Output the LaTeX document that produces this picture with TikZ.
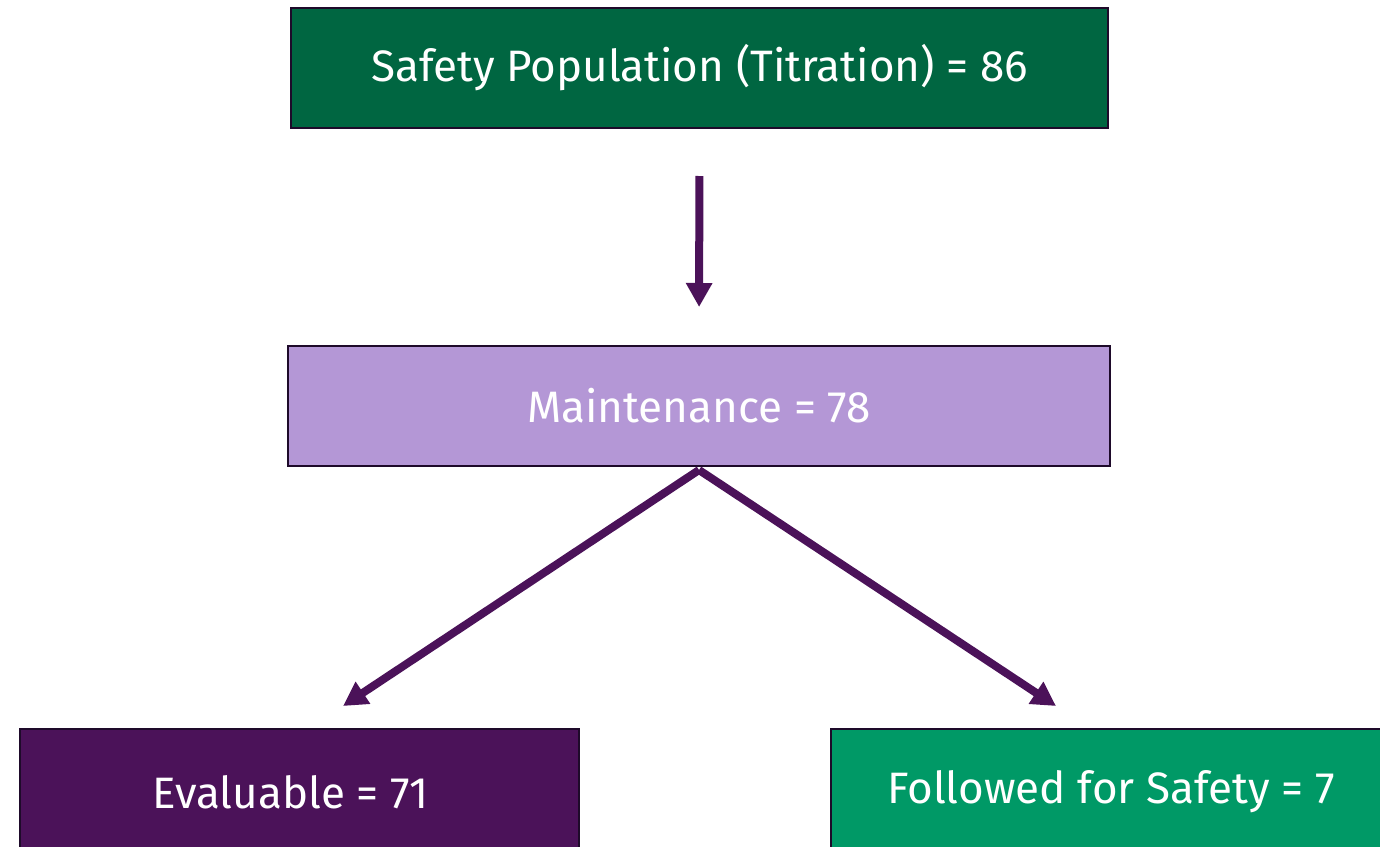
\documentclass[tikz,border=0pt]{standalone}
\usepackage{fontspec}
\setmainfont{Fira Sans}
\usetikzlibrary{arrows.meta}
\definecolor{dgreen}{HTML}{006641}
\definecolor{lav}{HTML}{B497D6}
\definecolor{purp}{HTML}{4B1259}
\definecolor{mgreen}{HTML}{009966}
\definecolor{edge}{HTML}{1E0A2A}
\tikzset{
  box/.style={draw=edge, line width=2pt, inner sep=0pt, text=white,
    font=\fontsize{44}{52}\selectfont},
  conn/.style={draw=purp, line width=8pt, -{Triangle[length=24pt,width=25pt]}}
}
\begin{document}
\begin{tikzpicture}[x=1pt,y=-1pt]
\useasboundingbox (0,0) rectangle (1380,846);
\clip (0,0) rectangle (1380,846);
\node[box, fill=dgreen, minimum width=817pt, minimum height=120pt] (top) at (699.5,68) {Safety Population (Titration) = 86};
\node[box, fill=lav, minimum width=822pt, minimum height=120pt] (mid) at (699,406) {Maintenance = 78};
\node[box, fill=purp, minimum width=559pt, minimum height=126pt] (evl) at (299.5,792) {\hspace*{-18pt}Evaluable = 71};
\node[box, fill=mgreen, minimum width=560pt, minimum height=126pt] (fol) at (1111,792) {Followed for Safety = 7};
\coordinate (src) at (699,470);
\coordinate (tipL) at (343,706);
\coordinate (tipR) at (1056,706);
\draw[conn, shorten <=47pt, shorten >=38pt] (top.south) -- (mid.north);
\draw[conn] (src) -- (tipL);
\draw[conn] (src) -- (tipR);
\end{tikzpicture}
\end{document}
